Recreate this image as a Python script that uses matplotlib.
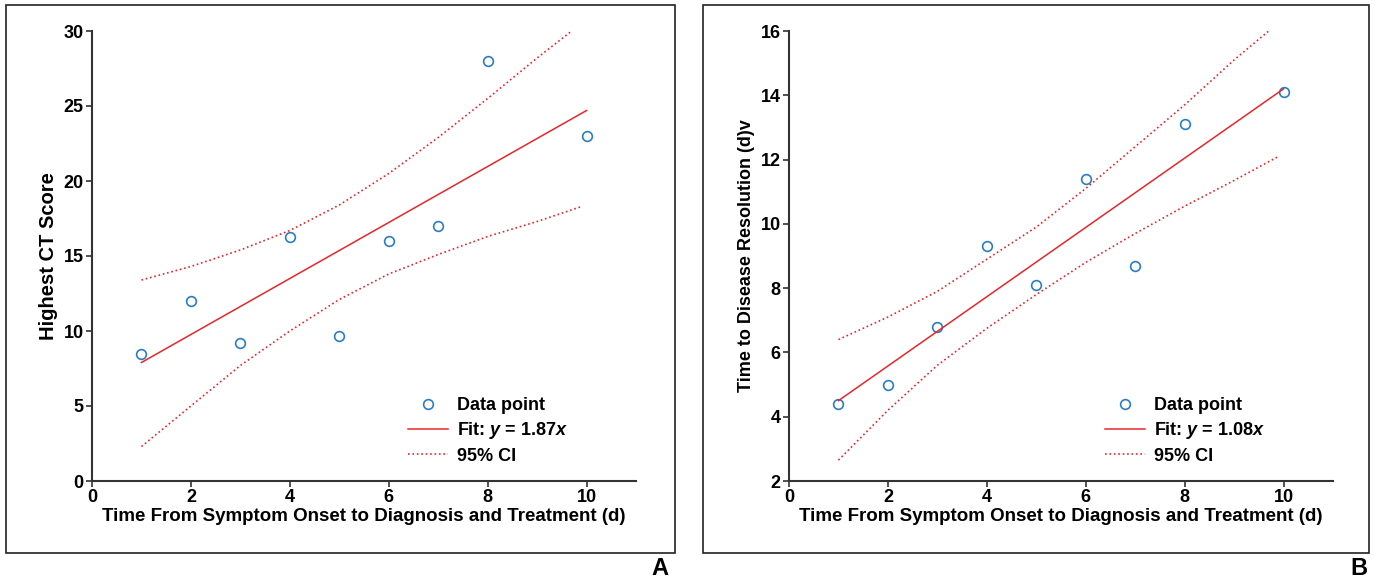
import matplotlib
matplotlib.use('Agg')
import matplotlib.pyplot as plt
from matplotlib.patches import Rectangle
from matplotlib.lines import Line2D

plt.rcParams['font.family'] = ['Liberation Sans Narrow', 'Liberation Sans', 'DejaVu Sans']
plt.rcParams['font.weight'] = 'bold'
plt.rcParams['axes.labelweight'] = 'bold'
plt.rcParams['mathtext.fontset'] = 'custom'
plt.rcParams['mathtext.it'] = 'Liberation Sans:italic:bold'
plt.rcParams['mathtext.rm'] = 'Liberation Sans:bold'

# panel A data
days = [1, 2, 3, 4, 5, 6, 7, 8, 10]
ct_score = [8.5, 12.0, 9.2, 16.3, 9.7, 16.0, 17.0, 28.0, 23.0]
fit_a_x = [1, 10]
fit_a_y = [7.9, 24.7]
ci_a_up_x = [1, 2, 3, 4, 5, 6, 7, 8, 9, 9.7]
ci_a_up_y = [13.4, 14.3, 15.4, 16.7, 18.4, 20.5, 22.9, 25.5, 28.2, 30.0]
ci_a_lo_x = [1, 2, 3, 4, 5, 6, 7, 8, 9, 9.9]
ci_a_lo_y = [2.3, 5.0, 7.7, 10.0, 12.1, 13.8, 15.1, 16.3, 17.3, 18.3]

# panel B data
resolution = [4.4, 5.0, 6.8, 9.3, 8.1, 11.4, 8.7, 13.1, 14.1]
fit_b_x = [1, 10]
fit_b_y = [4.5, 14.2]
ci_b_up_x = [1, 2, 3, 4, 5, 6, 7, 8, 9, 9.7]
ci_b_up_y = [6.4, 7.1, 7.9, 8.9, 9.9, 11.1, 12.4, 13.7, 15.1, 16.0]
ci_b_lo_x = [1, 2, 3, 4, 5, 6, 7, 8, 9, 9.9]
ci_b_lo_y = [2.65, 4.2, 5.6, 6.75, 7.8, 8.8, 9.7, 10.55, 11.35, 12.1]

W, H = 1375, 578
fig = plt.figure(figsize=(W / 100, H / 100), dpi=100)

BLUE = '#2a7dc4'
RED = '#e8262a'
DARK = '#333333'


def fr(l, t, r, b):
    # pixel box -> figure fraction
    return [l / W, 1 - b / H, (r - l) / W, (b - t) / H]


def panel(box, axbox, y, fit_x, fit_y, up_x, up_y, lo_x, lo_y, ylim, yticks, ylabel, ylab_size,
          fit_txt, letter, letter_x):
    fig.patches.append(Rectangle((box[0], box[1]), box[2], box[3], transform=fig.transFigure,
                                 fill=False, edgecolor='#222222', linewidth=1.2))
    ax = fig.add_axes(axbox)
    ax.plot(days, y, 'o', mfc='none', mec=BLUE, mew=1.2, ms=7, label='Data point')
    ax.plot(fit_x, fit_y, '-', color=RED, lw=1.1, label=fit_txt)
    ax.plot(up_x, up_y, ':', color=RED, lw=1.2, label='95% CI')
    ax.plot(lo_x, lo_y, ':', color=RED, lw=1.2)
    ax.set_xlim(0, 11)
    ax.set_ylim(*ylim)
    ax.set_xticks([0, 2, 4, 6, 8, 10])
    ax.set_yticks(yticks)
    for s in ['top', 'right']:
        ax.spines[s].set_visible(False)
    for s in ['left', 'bottom']:
        ax.spines[s].set_linewidth(1.5)
        ax.spines[s].set_color(DARK)
    ax.tick_params(direction='out', length=4, width=1.2, color=DARK, labelsize=13, pad=2)
    ax.set_xlabel('Time From Symptom Onset to Diagnosis and Treatment (d)', fontsize=13.5,
                  fontweight='bold', labelpad=1)
    ax.set_ylabel(ylabel, fontsize=ylab_size, fontweight='bold', labelpad=4)
    handles = [Line2D([], [], ls='none', marker='o', mfc='none', mec=BLUE, mew=1.2, ms=7),
               Line2D([], [], color=RED, lw=1.1),
               Line2D([], [], color=RED, lw=1.2, ls=':')]
    ax.legend(handles, ['Data point', fit_txt, '95% CI'], loc='lower right',
              bbox_to_anchor=(0.905, 0.0), frameon=False, fontsize=13,
              handlelength=2.2, handletextpad=0.5, labelspacing=0.35)
    fig.text(letter_x / W, 1 - 575 / H, letter, fontsize=17, fontweight='bold',
             family=['Liberation Sans', 'DejaVu Sans'])
    return ax


panel(fr(6, 5, 675, 553), fr(92, 31, 636, 481), ct_score, fit_a_x, fit_a_y,
      ci_a_up_x, ci_a_up_y, ci_a_lo_x, ci_a_lo_y, (0, 30), [0, 5, 10, 15, 20, 25, 30],
      'Highest CT Score', 14.5, 'Fit: $y$ = 1.87$x$', 'A', 651)
panel(fr(703, 5, 1369, 553), fr(789, 31, 1333, 481), resolution, fit_b_x, fit_b_y,
      ci_b_up_x, ci_b_up_y, ci_b_lo_x, ci_b_lo_y, (2, 16), [2, 4, 6, 8, 10, 12, 14, 16],
      'Time to Disease Resolution (d)v', 13, 'Fit: $y$ = 1.08$x$', 'B', 1350)

fig.savefig('out.png', dpi=100)
